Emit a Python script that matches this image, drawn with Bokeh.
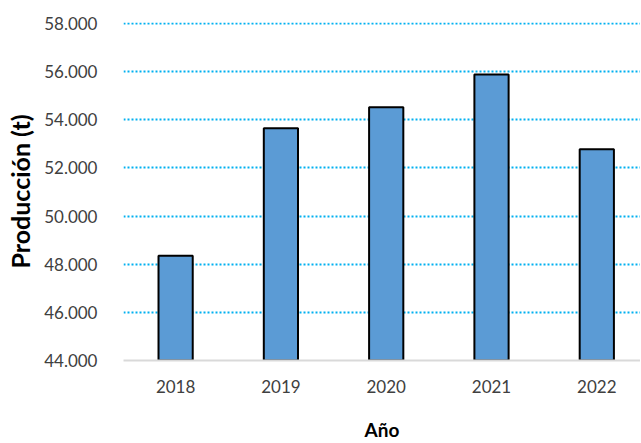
from bokeh.plotting import figure
from bokeh.models import FixedTicker, Range1d, ColumnDataSource
from bokeh.embed import file_html
from bokeh.resources import INLINE

years = ["2018", "2019", "2020", "2021", "2022"]
production = [48350, 53650, 54520, 55880, 52780]
y_ticks = [44000, 46000, 48000, 50000, 52000, 54000, 56000, 58000]
y_tick_labels = ["44.000", "46.000", "48.000", "50.000", "52.000", "54.000", "56.000", "58.000"]

xs = list(range(len(years)))
src = ColumnDataSource(dict(x=xs, top=production))

p = figure(width=640, height=443, output_backend="svg", toolbar_location=None,
           x_range=Range1d(-0.495, 4.415), y_range=Range1d(44000, 58040),
           min_border_left=123, min_border_right=0, min_border_top=22, min_border_bottom=83)
p.outline_line_color = None
p.background_fill_color = "white"

p.vbar(x="x", top="top", bottom=44000, width=0.325, source=src,
       fill_color="#5B9BD5", line_color="black", line_width=2)

FONT = "Lato"
p.xaxis.ticker = FixedTicker(ticks=xs)
p.xaxis.major_label_overrides = {i: y for i, y in enumerate(years)}
p.yaxis.ticker = FixedTicker(ticks=y_ticks)
p.yaxis.major_label_overrides = {t: l for t, l in zip(y_ticks, y_tick_labels)}

for ax in (p.xaxis, p.yaxis):
    ax.major_tick_line_color = None
    ax.minor_tick_line_color = None
    ax.major_label_text_font = FONT
    ax.major_label_text_font_size = "17px"
    ax.major_label_text_color = "#404040"
    ax.axis_label_text_font = FONT
    ax.axis_label_text_font_style = "bold"
    ax.axis_label_text_color = "black"

p.xaxis.axis_label_text_font_size = "19px"
p.yaxis.axis_label_text_font_size = "25px"
p.xaxis.axis_line_color = "#D9D9D9"
p.xaxis.axis_line_width = 2
p.yaxis.axis_line_color = None
p.xaxis.axis_label = "Año"
p.yaxis.axis_label = "Producción (t)"
p.xaxis.major_label_standoff = 13
p.xaxis.axis_label_standoff = 22
p.yaxis.major_label_standoff = 20
p.yaxis.axis_label_standoff = 6

p.xgrid.grid_line_color = None
p.ygrid.grid_line_color = "#00B0F0"
p.ygrid.grid_line_width = 2
p.ygrid.grid_line_dash = "2 2"

open("out.html", "w").write(file_html(p, INLINE))
